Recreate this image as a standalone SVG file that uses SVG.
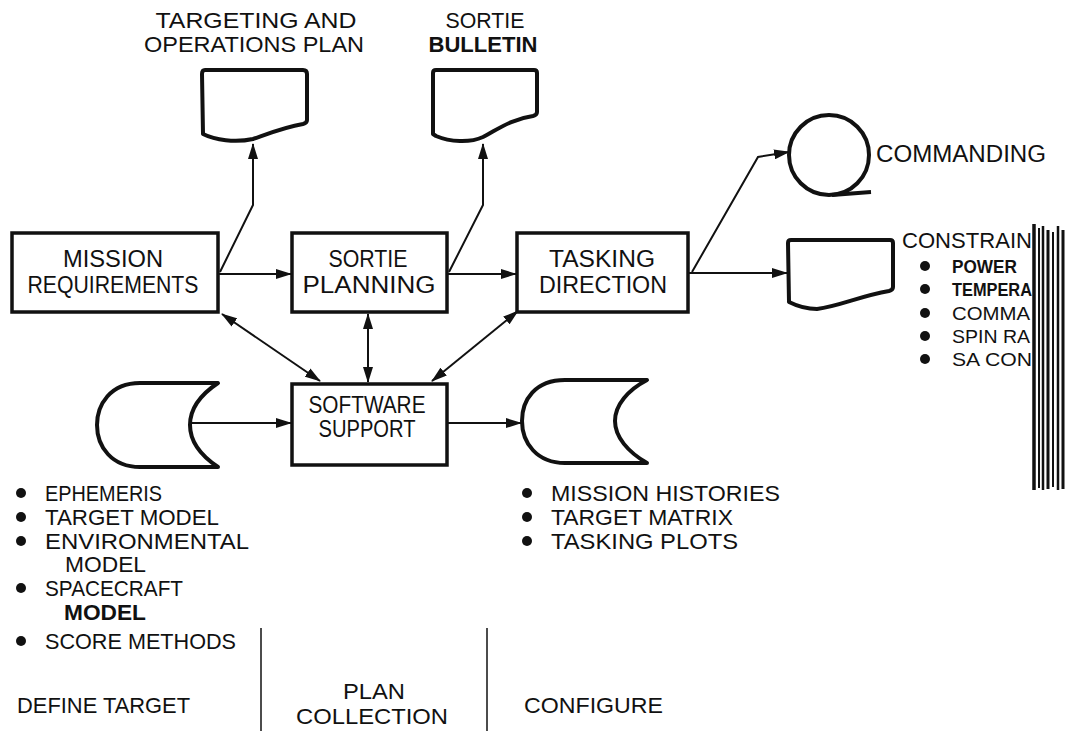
<svg xmlns="http://www.w3.org/2000/svg" width="1067" height="731" viewBox="0 0 1067 731">
<style>
text{font-family:"Liberation Sans",Arial,sans-serif;fill:#111}
.lbl{font-size:23px}
.lst{font-size:22px}
.sm{font-size:19px}
.ttl{font-size:22px}
.b{font-weight:bold}
.box{fill:#fff;stroke:#111;stroke-width:3.5}
.shp{fill:#fff;stroke:#111;stroke-width:4;stroke-linejoin:round}
.con{fill:none;stroke:#111;stroke-width:2}
.bul{fill:#111}
.sep{stroke:#111;stroke-width:1.5}
.bar{stroke:#111}
</style>
<defs>
<marker id="ah" viewBox="0 0 16 10" refX="15" refY="5" markerWidth="16" markerHeight="10" markerUnits="userSpaceOnUse" orient="auto-start-reverse">
<path d="M0,0 L16,5 L0,10 Z" fill="#111"/>
</marker>
</defs>

<g id="connectors">
<path class="con" d="M220,272 L253,205 L253,144" marker-end="url(#ah)"/>
<path class="con" d="M449,272 L483,205 L483,144" marker-end="url(#ah)"/>
<path class="con" d="M218,274 L291,274" marker-end="url(#ah)"/>
<path class="con" d="M447,274 L516,274" marker-end="url(#ah)"/>
<path class="con" d="M688,273 L787,273" marker-end="url(#ah)"/>
<path class="con" d="M692,272 L758,157 L789,152" marker-end="url(#ah)"/>
<path class="con" d="M222,314 L320,381" marker-start="url(#ah)" marker-end="url(#ah)"/>
<path class="con" d="M368,314 L368,382" marker-start="url(#ah)" marker-end="url(#ah)"/>
<path class="con" d="M518,311 L432,381" marker-start="url(#ah)" marker-end="url(#ah)"/>
<path class="con" d="M190,423 L291,423" marker-end="url(#ah)"/>
<path class="con" d="M447,423 L521,423" marker-end="url(#ah)"/>
</g>

<g id="ops-plan">
<path class="shp" d="M205,70 L303,70 Q307,70 307,74 L307,120 Q307,123 303,124 C285,127 270,133 253,139 C235,143 215,140 203,134 L202,74 Q202,70 205,70 Z"/>
<text class="ttl" x="256" y="28" text-anchor="middle" textLength="201" lengthAdjust="spacingAndGlyphs">TARGETING AND</text>
<text class="ttl" x="254" y="52" text-anchor="middle" textLength="220" lengthAdjust="spacingAndGlyphs">OPERATIONS PLAN</text>
</g>

<g id="sortie-bulletin">
<path class="shp" d="M436,70 L534,70 Q537,70 537,73 L537,112 Q537,115 533,116 C512,119 500,128 483,137 C470,143 450,142 436,136 L433,134 L433,73 Q433,70 436,70 Z"/>
<text class="ttl" x="485" y="28" text-anchor="middle" textLength="79" lengthAdjust="spacingAndGlyphs">SORTIE</text>
<text class="ttl b" x="483" y="52" text-anchor="middle" textLength="109" lengthAdjust="spacingAndGlyphs">BULLETIN</text>
</g>

<g id="commanding">
<circle cx="829" cy="155" r="40" fill="#fff" stroke="#111" stroke-width="4"/>
<path d="M832,195 L871,192" stroke="#111" stroke-width="4" fill="none"/>
<text class="lbl" x="876" y="162" textLength="170" lengthAdjust="spacingAndGlyphs">COMMANDING</text>
</g>

<g id="mission-requirements">
<rect class="box" x="12" y="233" width="206" height="79"/>
<text class="lbl" x="113" y="267" text-anchor="middle" textLength="100" lengthAdjust="spacingAndGlyphs">MISSION</text>
<text class="lbl" x="113" y="293" text-anchor="middle" textLength="171" lengthAdjust="spacingAndGlyphs">REQUIREMENTS</text>
</g>

<g id="sortie-planning">
<rect class="box" x="292" y="233" width="155" height="79"/>
<text class="lbl" x="368" y="267" text-anchor="middle" textLength="79" lengthAdjust="spacingAndGlyphs">SORTIE</text>
<text class="lbl" x="369" y="293" text-anchor="middle" textLength="133" lengthAdjust="spacingAndGlyphs">PLANNING</text>
</g>

<g id="tasking-direction">
<rect class="box" x="517" y="233" width="171" height="79"/>
<text class="lbl" x="602" y="267" text-anchor="middle" textLength="106" lengthAdjust="spacingAndGlyphs">TASKING</text>
<text class="lbl" x="603" y="293" text-anchor="middle" textLength="128" lengthAdjust="spacingAndGlyphs">DIRECTION</text>
</g>

<g id="constraints">
<path class="shp" d="M791,240 L890,240 Q893,240 893,243 L893,287 Q893,290 889,291 C860,296 840,306 817,309 C805,309 795,305 789,302 L788,243 Q788,240 791,240 Z"/>
<text class="lst" x="902" y="248" textLength="130" lengthAdjust="spacingAndGlyphs">CONSTRAIN</text>
<circle class="bul" cx="925" cy="266" r="5"/>
<text class="sm b" x="952" y="273" textLength="65" lengthAdjust="spacingAndGlyphs">POWER</text>
<circle class="bul" cx="925" cy="289" r="5"/>
<text class="sm b" x="952" y="296" textLength="80" lengthAdjust="spacingAndGlyphs">TEMPERA</text>
<circle class="bul" cx="925" cy="313" r="5"/>
<text class="sm" x="952" y="320" textLength="78" lengthAdjust="spacingAndGlyphs">COMMA</text>
<circle class="bul" cx="925" cy="336" r="5"/>
<text class="sm" x="952" y="343" textLength="78" lengthAdjust="spacingAndGlyphs">SPIN RA</text>
<circle class="bul" cx="925" cy="359" r="5"/>
<text class="sm" x="952" y="366" textLength="80" lengthAdjust="spacingAndGlyphs">SA CON</text>
</g>

<g id="edge-bars">
<line class="bar" x1="1034" y1="224" x2="1034" y2="490" stroke-width="3.5"/>
<line class="bar" x1="1039" y1="228" x2="1039" y2="488" stroke-width="2"/>
<line class="bar" x1="1043" y1="226" x2="1043" y2="490" stroke-width="2.5"/>
<line class="bar" x1="1048" y1="230" x2="1048" y2="489" stroke-width="3"/>
<line class="bar" x1="1053" y1="232" x2="1053" y2="487" stroke-width="2"/>
<line class="bar" x1="1058" y1="226" x2="1058" y2="490" stroke-width="2.5"/>
<line class="bar" x1="1063" y1="230" x2="1063" y2="489" stroke-width="3"/>
</g>

<g id="software-support">
<rect class="box" x="292" y="384" width="155" height="81"/>
<text class="lbl" x="367" y="413" text-anchor="middle" textLength="117" lengthAdjust="spacingAndGlyphs">SOFTWARE</text>
<text class="lbl" x="367" y="437" text-anchor="middle" textLength="97" lengthAdjust="spacingAndGlyphs">SUPPORT</text>
</g>

<g id="input-store">
<path class="shp" d="M218,383 L140,383 C110,383 97,405 97,425 C97,447 112,467 140,467 L218,467 C200,455 190,440 190,425 C190,410 200,395 218,383 Z"/>
</g>

<g id="output-store">
<path class="shp" d="M647,380 L565,380 C535,380 522,400 522,421 C522,443 537,463 565,463 L647,463 C628,452 615,437 615,421 C615,405 628,390 647,380 Z"/>
</g>

<g id="input-list">
<circle class="bul" cx="21" cy="493" r="5"/>
<text class="lst" x="45" y="501" textLength="117" lengthAdjust="spacingAndGlyphs">EPHEMERIS</text>
<circle class="bul" cx="21" cy="517" r="5"/>
<text class="lst" x="45" y="525" textLength="174" lengthAdjust="spacingAndGlyphs">TARGET MODEL</text>
<circle class="bul" cx="21" cy="541" r="5"/>
<text class="lst" x="45" y="549" textLength="204" lengthAdjust="spacingAndGlyphs">ENVIRONMENTAL</text>
<text class="lst" x="65" y="572" textLength="81" lengthAdjust="spacingAndGlyphs">MODEL</text>
<circle class="bul" cx="21" cy="588" r="5"/>
<text class="lst" x="45" y="596" textLength="138" lengthAdjust="spacingAndGlyphs">SPACECRAFT</text>
<text class="lst b" x="64" y="620" textLength="82" lengthAdjust="spacingAndGlyphs">MODEL</text>
<circle class="bul" cx="21" cy="641" r="5"/>
<text class="lst" x="45" y="649" textLength="191" lengthAdjust="spacingAndGlyphs">SCORE METHODS</text>
</g>

<g id="output-list">
<circle class="bul" cx="527" cy="493" r="5"/>
<text class="lst" x="551" y="501" textLength="229" lengthAdjust="spacingAndGlyphs">MISSION HISTORIES</text>
<circle class="bul" cx="527" cy="517" r="5"/>
<text class="lst" x="551" y="525" textLength="182" lengthAdjust="spacingAndGlyphs">TARGET MATRIX</text>
<circle class="bul" cx="527" cy="541" r="5"/>
<text class="lst" x="551" y="549" textLength="187" lengthAdjust="spacingAndGlyphs">TASKING PLOTS</text>
</g>

<g id="phases">
<line class="sep" x1="261" y1="628" x2="261" y2="731"/>
<line class="sep" x1="487" y1="628" x2="487" y2="731"/>
<text class="lst" x="17" y="713" textLength="173" lengthAdjust="spacingAndGlyphs">DEFINE TARGET</text>
<text class="lst" x="374" y="699" text-anchor="middle" textLength="62" lengthAdjust="spacingAndGlyphs">PLAN</text>
<text class="lst" x="372" y="724" text-anchor="middle" textLength="152" lengthAdjust="spacingAndGlyphs">COLLECTION</text>
<text class="lst" x="524" y="713" textLength="139" lengthAdjust="spacingAndGlyphs">CONFIGURE</text>
</g>
</svg>
